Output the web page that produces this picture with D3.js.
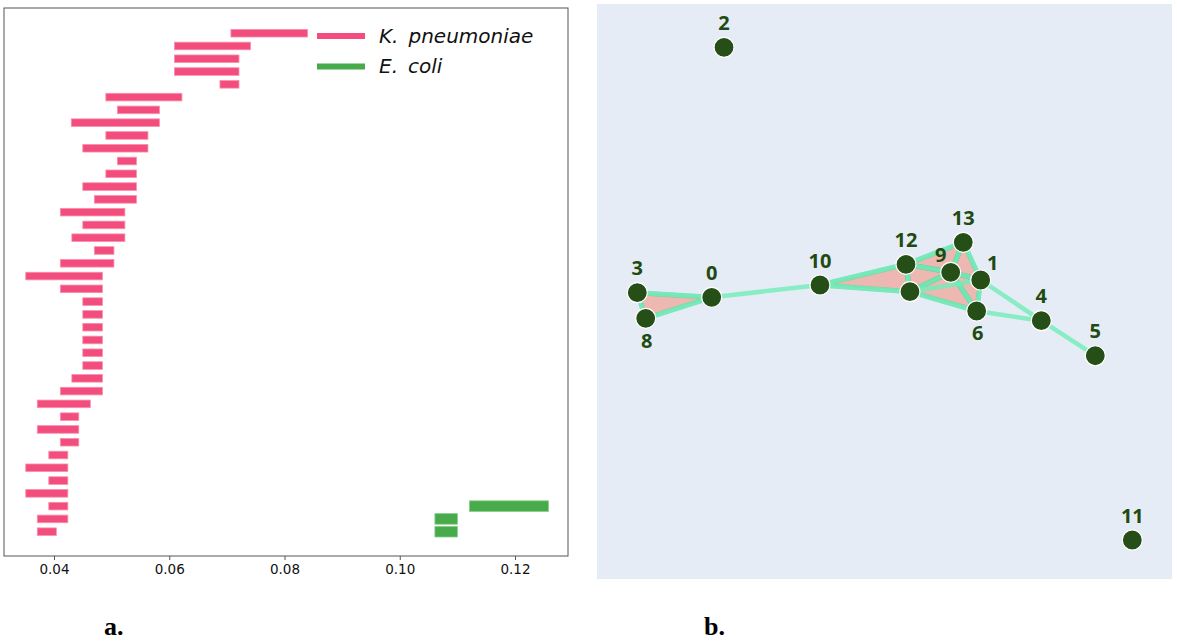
<!DOCTYPE html>
<html>
<head>
<meta charset="utf-8">
<script src="https://cdn.jsdelivr.net/npm/d3@7"></script>
<style>
  body { margin: 0; background: #fff; }
  svg { display: block; }
</style>
</head>
<body>
<svg id="chart" width="1177" height="641"></svg>
<script>
// panel a: barcode, one bar per row (birth -> death)
const kpBirth = [0.0707, 0.0609, 0.0609, 0.0609, 0.0688, 0.0490, 0.0510, 0.0430, 0.0490, 0.0450,
                 0.0510, 0.0490, 0.0450, 0.0470, 0.0411, 0.0450, 0.0431, 0.0470, 0.0411, 0.0351,
                 0.0411, 0.0450, 0.0450, 0.0450, 0.0450, 0.0450, 0.0450, 0.0431, 0.0411, 0.0371,
                 0.0411, 0.0371, 0.0411, 0.0391, 0.0351, 0.0391, 0.0351, 0.0391, 0.0371, 0.0371];
const kpDeath = [0.0840, 0.0741, 0.0721, 0.0721, 0.0721, 0.0622, 0.0583, 0.0583, 0.0563, 0.0563,
                 0.0543, 0.0543, 0.0543, 0.0543, 0.0523, 0.0523, 0.0523, 0.0504, 0.0504, 0.0484,
                 0.0484, 0.0484, 0.0484, 0.0484, 0.0484, 0.0484, 0.0484, 0.0484, 0.0484, 0.0463,
                 0.0443, 0.0443, 0.0443, 0.0424, 0.0424, 0.0424, 0.0424, 0.0424, 0.0424, 0.0404];
const ecRows = [37, 38, 39];
const ecBirth = [0.1121, 0.1061, 0.1061];
const ecDeath = [0.1258, 0.1100, 0.1100];
const xTicks = [0.04, 0.06, 0.08, 0.10, 0.12];
const seriesNames = [["K.", "pneumoniae"], ["E.", "coli"]];

// panel b: simplicial complex
const nodeIds = [0, 1, 2, 3, 4, 5, 6, 7, 8, 9, 10, 11, 12, 13];
const nodeX = [0.1995, 0.6673, 0.2209, 0.0701, 0.7727, 0.8666, 0.6603, 0.5443, 0.0847, 0.6151, 0.3878, 0.9310, 0.5374, 0.6370];
const nodeY = [0.4899, 0.5200, 0.9247, 0.4979, 0.4492, 0.3883, 0.4661, 0.4997, 0.4534, 0.5334, 0.5113, 0.0678, 0.5473, 0.5856];
const labelPos = ["top", "top right", "top", "top", "top", "top", "bottom", "none", "bottom", "top left", "top", "top", "top", "top"];
const edges = [[3, 0], [3, 8], [8, 0], [0, 10], [10, 12], [10, 7], [12, 7], [12, 9], [12, 13], [13, 9],
               [13, 1], [9, 1], [9, 7], [9, 6], [7, 1], [7, 6], [1, 6], [1, 4], [6, 4], [4, 5]];
const triangles = [[3, 8, 0], [10, 12, 7], [12, 13, 9], [13, 9, 1], [12, 9, 7], [7, 9, 6], [9, 1, 6]];
const panelTags = ["a.", "b."];

const svg = d3.select("#chart");

// ---------- panel a ----------
const x = d3.scaleLinear().domain([0.04, 0.12]).range([54, 515]);
const y = d3.scalePoint().domain(d3.range(kpBirth.length)).range([33.2, 531.7]);

const pink = "#f24d7c", green = "#47ab4c";

svg.append("rect")
  .attr("x", 4).attr("y", 8).attr("width", 564).attr("height", 548)
  .attr("fill", "none").attr("stroke", "#555").attr("stroke-width", 1);

svg.append("g")
  .selectAll("rect")
  .data(kpBirth)
  .enter()
  .append("rect")
  .attr("x", d => x(d))
  .attr("y", (d, i) => y(i) - 3.8)
  .attr("width", (d, i) => x(kpDeath[i]) - x(d))
  .attr("height", 7.6)
  .attr("fill", pink)
  .attr("stroke", "#f98fae")
  .attr("stroke-width", 0.8);

svg.append("g")
  .selectAll("rect")
  .data(ecBirth)
  .enter()
  .append("rect")
  .attr("x", d => x(d))
  .attr("y", (d, i) => y(ecRows[i]) - 5.3)
  .attr("width", (d, i) => x(ecDeath[i]) - x(d))
  .attr("height", 10.6)
  .attr("fill", green)
  .attr("stroke", "#86cf88")
  .attr("stroke-width", 0.8);

const xAxis = d3.axisBottom(x).tickValues(xTicks).tickFormat(d3.format(".2f")).tickSize(4).tickPadding(4);
svg.append("g")
  .attr("transform", "translate(0,556)")
  .call(g => {
    g.call(xAxis);
    g.select(".domain").remove();
    g.selectAll(".tick line").attr("stroke", "#555");
    g.selectAll(".tick text").attr("font-family", "DejaVu Sans").attr("font-size", 13.5).attr("fill", "#111");
  });

const legend = svg.append("g");
[pink, green].forEach((c, i) => {
  legend.append("line")
    .attr("x1", 317).attr("x2", 365)
    .attr("y1", 36 + i * 30.5).attr("y2", 36 + i * 30.5)
    .attr("stroke", c).attr("stroke-width", 6);
  const t = legend.append("text")
    .attr("x", 379).attr("y", 42.5 + i * 30.5)
    .attr("font-family", "DejaVu Sans").attr("font-style", "italic")
    .attr("font-size", 20).attr("fill", "#111");
  t.append("tspan").text(seriesNames[i][0]);
  t.append("tspan").attr("dx", 10).text(seriesNames[i][1]);
});

// ---------- panel b ----------
const nx = d3.scaleLinear().domain([0, 1]).range([597, 1172]);
const ny = d3.scaleLinear().domain([0, 1]).range([579, 4]);
const px = i => nx(nodeX[i]);
const py = i => ny(nodeY[i]);

svg.append("rect")
  .attr("x", 597).attr("y", 4).attr("width", 575).attr("height", 575)
  .attr("fill", "#e5ecf6");

svg.append("g")
  .selectAll("polygon")
  .data(triangles)
  .enter()
  .append("polygon")
  .attr("points", t => t.map(i => px(i) + "," + py(i)).join(" "))
  .attr("fill", "rgba(246,128,104,0.48)")
  .attr("stroke", "rgba(64,208,150,0.55)")
  .attr("stroke-width", 5)
  .attr("stroke-linejoin", "round");

svg.append("g")
  .selectAll("line")
  .data(edges)
  .enter()
  .append("line")
  .attr("x1", e => px(e[0])).attr("y1", e => py(e[0]))
  .attr("x2", e => px(e[1])).attr("y2", e => py(e[1]))
  .attr("stroke", "rgba(112,238,184,0.8)")
  .attr("stroke-width", 4.5);

svg.append("g")
  .selectAll("circle")
  .data(nodeIds)
  .enter()
  .append("circle")
  .attr("cx", i => px(i))
  .attr("cy", i => py(i))
  .attr("r", 10)
  .attr("fill", "#254f16")
  .attr("stroke", "#fff")
  .attr("stroke-width", 1.2);

const offsets = {
  "top": [0, -17.5],
  "bottom": [1, 29.5],
  "top left": [-10, -10.5],
  "top right": [12, -10.5]
};
svg.append("g")
  .selectAll("text")
  .data(nodeIds.filter(i => labelPos[i] !== "none"))
  .enter()
  .append("text")
  .attr("x", i => px(i) + offsets[labelPos[i]][0])
  .attr("y", i => py(i) + offsets[labelPos[i]][1])
  .attr("text-anchor", "middle")
  .attr("font-family", "Open Sans")
  .attr("font-weight", "bold")
  .attr("font-size", 20)
  .attr("fill", "#1f4a12")
  .text(i => i);

// panel tags
svg.selectAll(".tag")
  .data(panelTags)
  .enter()
  .append("text")
  .attr("class", "tag")
  .attr("x", (d, i) => i === 0 ? 104 : 704)
  .attr("y", 635)
  .attr("font-family", "Liberation Serif")
  .attr("font-weight", "bold")
  .attr("font-size", 26)
  .attr("fill", "#000")
  .text(d => d);
</script>
</body>
</html>
